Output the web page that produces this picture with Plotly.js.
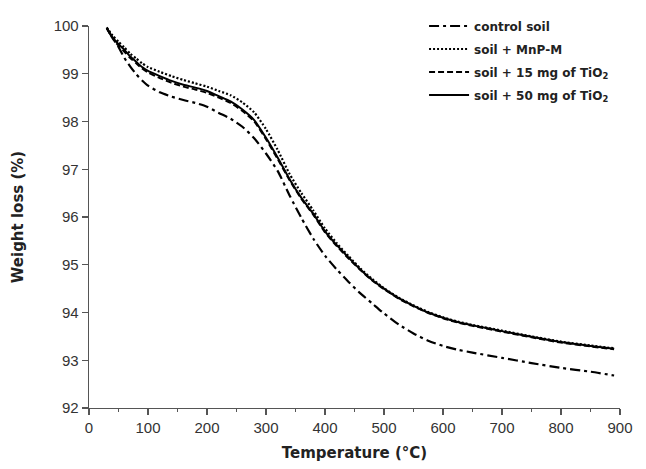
<!DOCTYPE html>
<html>
<head>
<meta charset="utf-8">
<script src="https://cdn.plot.ly/plotly-3.0.1.min.js"></script>
<style>html,body{margin:0;padding:0;background:#fff;}#chart{width:646px;height:469px;}</style>
</head>
<body>
<div id="chart"></div>
<script>
const temperature = [30,40,50,60,70,80,90,100,120,140,160,180,200,220,240,260,280,300,320,340,360,380,400,420,440,460,480,500,525,550,575,600,625,650,700,750,800,850,890];

const controlSoil = [99.96,99.75,99.56,99.33,99.15,98.99,98.86,98.75,98.61,98.52,98.45,98.39,98.31,98.18,98.06,97.89,97.65,97.33,96.96,96.45,95.98,95.55,95.19,94.90,94.64,94.40,94.19,93.98,93.75,93.56,93.41,93.30,93.22,93.16,93.05,92.94,92.84,92.76,92.68];

const soilMnPM = [99.97,99.80,99.67,99.55,99.42,99.32,99.22,99.14,99.04,98.95,98.87,98.80,98.73,98.64,98.55,98.40,98.19,97.84,97.40,96.90,96.50,96.14,95.76,95.45,95.18,94.92,94.70,94.51,94.31,94.15,94.01,93.90,93.81,93.74,93.62,93.50,93.39,93.31,93.25];

const soil15TiO2 = [99.96,99.74,99.59,99.46,99.33,99.22,99.11,99.03,98.91,98.81,98.73,98.67,98.60,98.50,98.39,98.22,98.00,97.63,97.21,96.77,96.38,96.05,95.68,95.39,95.13,94.89,94.67,94.49,94.29,94.13,93.99,93.88,93.79,93.72,93.60,93.48,93.37,93.29,93.23];

const soil50TiO2 = [99.96,99.76,99.62,99.50,99.36,99.25,99.14,99.06,98.95,98.85,98.77,98.71,98.64,98.53,98.42,98.25,98.03,97.66,97.24,96.79,96.40,96.07,95.70,95.41,95.15,94.90,94.68,94.50,94.30,94.14,94.00,93.89,93.80,93.73,93.61,93.49,93.38,93.30,93.24];

const seriesNames = ['control soil','soil + MnP-M','soil + 15 mg of TiO<sub>2</sub>','soil + 50 mg of TiO<sub>2</sub>'];
const xTicks = [0,100,200,300,400,500,600,700,800,900];
const yTicks = [92,93,94,95,96,97,98,99,100];

const styles = [
  {dash:'10px,4px,3px,4px', width:2.2},
  {dash:'2px,2px', width:2.2},
  {dash:'6px,3px', width:2},
  {dash:'solid', width:2}
];
const ys = [controlSoil, soilMnPM, soil15TiO2, soil50TiO2];

const traces = ys.map((y,i)=>({
  x: temperature, y: y, type:'scatter', mode:'lines',
  name: '<b>'+seriesNames[i]+'</b>',
  legendgroup: 'g'+i,
  line: {color:'#000', width:styles[i].width, dash:styles[i].dash, shape:'spline', smoothing:0.6}
}));

const axisFont = {family:'Liberation Sans, Arial, sans-serif', size:15, color:'#333'};
const titleFont = {family:'DejaVu Sans, sans-serif', size:15, color:'#222'};

const layout = {
  width:646, height:469,
  margin:{l:89, r:26, t:21, b:61},
  paper_bgcolor:'#fff', plot_bgcolor:'#fff',
  showlegend:true,
  legend:{x:0.631, y:1.038, xanchor:'left', yanchor:'top', bgcolor:'rgba(0,0,0,0)',
    font:{family:'DejaVu Sans, sans-serif', size:12, color:'#222'},
    itemwidth:40, tracegroupgap:4},
  xaxis:{
    range:[0,900], tickvals:xTicks, ticktext:xTicks.map(String),
    showline:true, linecolor:'#555', linewidth:1.3,
    ticks:'outside', ticklen:6, tickwidth:1.3, tickcolor:'#555',
    minor:{dtick:50, tick0:0, ticks:'outside', ticklen:3, tickwidth:1.3, tickcolor:'#555'},
    showgrid:false, zeroline:false, tickfont:axisFont,
    title:{text:'<b>Temperature (°C)</b>', font:titleFont, standoff:12}
  },
  yaxis:{
    range:[92,100], tickvals:yTicks, ticktext:yTicks.map(String),
    showline:true, linecolor:'#555', linewidth:1.3,
    ticks:'outside', ticklen:6, tickwidth:1.3, tickcolor:'#555',
    showgrid:false, zeroline:false, tickfont:axisFont,
    title:{text:'<b>Weight loss (%)</b>', font:titleFont, standoff:26}
  }
};

Plotly.newPlot('chart', traces, layout, {displayModeBar:false, staticPlot:true});
</script>
</body>
</html>
